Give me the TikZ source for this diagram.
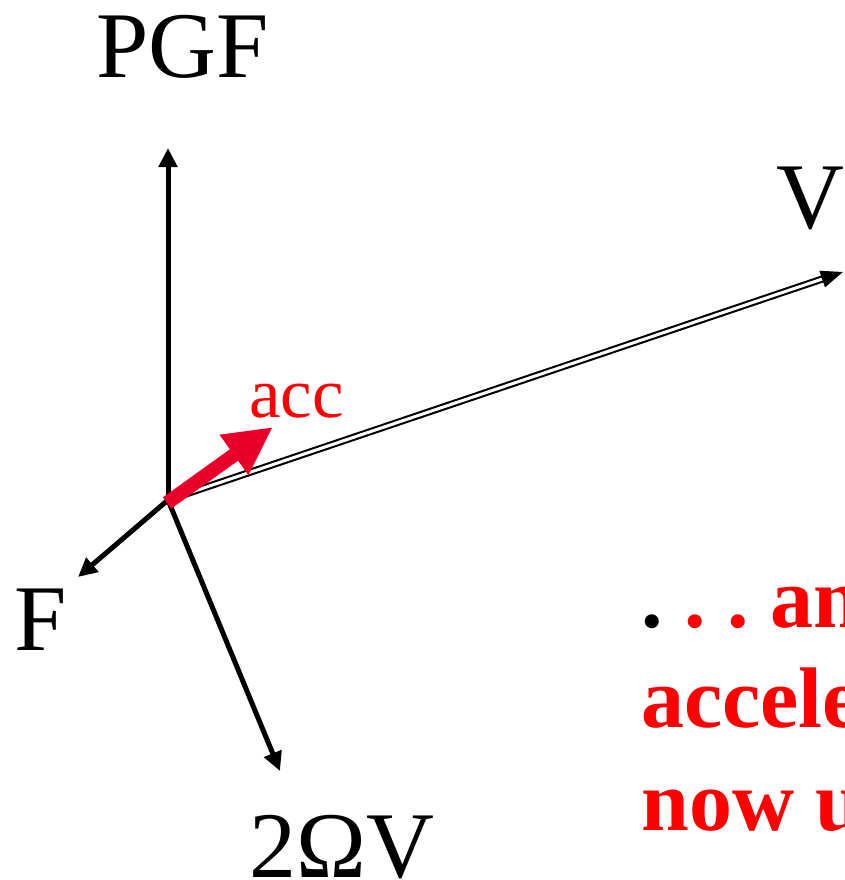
\documentclass[tikz,border=0pt]{standalone}
\usepackage{fontspec}
\setmainfont{Liberation Serif}
\usetikzlibrary{arrows.meta}
\definecolor{accred}{RGB}{232,0,42}
\definecolor{txtred}{RGB}{255,0,0}
\frenchspacing
\begin{document}
\begin{tikzpicture}[x=1pt,y=-1pt,
  lbl/.style={inner sep=0pt, anchor=base west, font=\fontsize{94}{94}\selectfont},
  boldred/.style={inner sep=0pt, anchor=base west, text=txtred, font=\fontsize{86}{86}\selectfont\bfseries\frenchspacing},
  vec/.style={line width=5pt, -{Triangle[length=19pt,width=18pt]}},
  vvec/.style={line width=2.1pt, double=white, double distance=3pt, -{Triangle[length=22pt,width=17pt]}},
  accvec/.style={draw=accred, line width=14pt, -{Triangle[length=48pt,width=46pt]}}]
\useasboundingbox (0,0) rectangle (845,880);
\clip (0,0) rectangle (845,880);
\coordinate (O) at (168,500);
\coordinate (Oa) at (167,503);
\coordinate (Tpgf) at (168,148);
\coordinate (Tf) at (78,577);
\coordinate (Tc) at (280,771);
\coordinate (Tv) at (843,272);
\coordinate (Ta) at (273,427);
\draw[vec] (168,503) -- (Tpgf);
\draw[vec] (O) -- (Tf);
\draw[vec] (O) -- (Tc);
\draw[vvec] (O) -- (Tv);
\draw[accvec] (Oa) -- (Ta);
\node[lbl] (pgf) at (96,78) {PGF};
\node[lbl] (v) at (776,228) {V};
\node[lbl] (f) at (14,650) {F};
\node[lbl] (c) at (249,877) {2ΩV};
\node[inner sep=0pt, anchor=base west, text=txtred, font=\fontsize{71}{71}\selectfont] (acc) at (249,417) {acc};
\node[boldred] (l1) at (641,627) {\textcolor{black}{.} . . an};
\node[boldred] (l2) at (641,727) {accele};
\node[boldred] (l3) at (641,830) {now u};
\end{tikzpicture}
\end{document}
